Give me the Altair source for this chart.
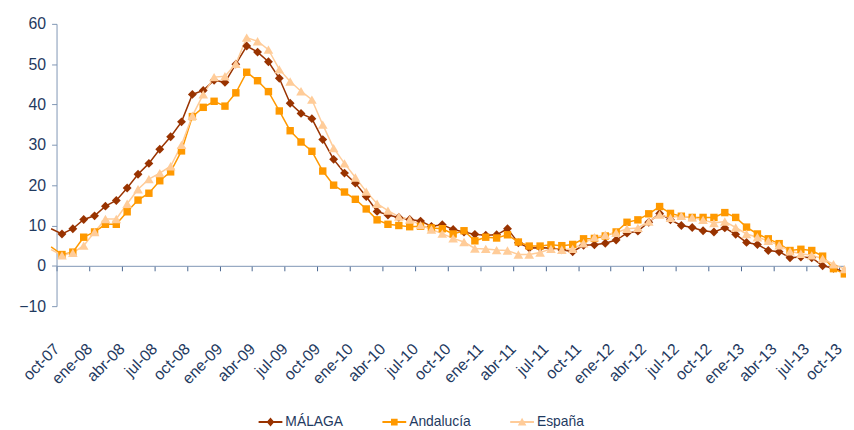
import json
import altair as alt
import pandas as pd

# ---- data -------------------------------------------------------------
etiquetas = ['oct-07', 'ene-08', 'abr-08', 'jul-08', 'oct-08', 'ene-09', 'abr-09',
             'jul-09', 'oct-09', 'ene-10', 'abr-10', 'jul-10', 'oct-10', 'ene-11',
             'abr-11', 'jul-11', 'oct-11', 'ene-12', 'abr-12', 'jul-12', 'oct-12',
             'ene-13', 'abr-13', 'jul-13', 'oct-13']
series = ['MÁLAGA', 'Andalucía', 'España']
colores = ['#993300', '#FF9900', '#FFCC99']

malaga = [7.9, 9.2, 11.5, 12.4, 14.8, 16.2, 19.3, 22.7, 25.4, 28.9, 32.0, 35.7,
          42.5, 43.5, 46.0, 45.5, 50.0, 54.5, 53.0, 50.6, 46.5, 40.3, 37.8, 36.5,
          31.3, 26.4, 23.0, 20.5, 17.2, 13.5, 12.6, 12.0, 11.5, 11.1, 9.8, 10.2,
          9.0, 8.4, 7.8, 7.6, 7.7, 9.2, 5.7, 4.4, 4.5, 4.4, 4.0, 3.5,
          5.1, 5.2, 5.6, 6.4, 8.1, 8.6, 10.8, 13.0, 11.4, 10.0, 9.5, 8.7,
          8.4, 9.4, 7.8, 5.8, 5.3, 3.8, 3.5, 2.0, 2.2, 2.0, 0.0, -0.6, -1.5]
andalucia = [2.8, 3.4, 7.1, 8.4, 10.3, 10.3, 13.4, 16.3, 18.0, 21.1, 23.3, 28.5,
             37.0, 39.3, 40.8, 39.6, 42.9, 48.0, 45.9, 43.2, 38.4, 33.5, 30.7, 28.4,
             23.5, 20.0, 18.3, 16.5, 14.1, 11.4, 10.3, 10.0, 9.7, 9.8, 9.4, 9.2,
             7.9, 8.7, 6.2, 7.1, 6.9, 7.7, 5.9, 4.9, 4.9, 5.2, 5.0, 5.3,
             6.7, 6.8, 7.4, 8.4, 10.8, 11.4, 12.9, 14.7, 13.0, 12.3, 12.0, 12.0,
             12.0, 13.2, 12.0, 9.6, 7.9, 6.7, 5.5, 3.8, 4.1, 3.8, 2.4, -0.7, -2.0]
espana = [2.6, 3.2, 5.0, 8.4, 11.6, 11.6, 15.4, 19.0, 21.5, 23.0, 24.7, 30.0,
          37.2, 42.5, 46.8, 47.0, 50.1, 56.6, 55.7, 53.6, 48.7, 45.7, 43.3, 41.2,
          35.0, 29.2, 25.4, 21.9, 18.4, 15.4, 13.7, 12.2, 11.5, 10.1, 9.0, 8.0,
          6.8, 5.9, 4.3, 4.2, 3.9, 3.8, 2.8, 2.8, 3.3, 4.2, 4.0, 4.2,
          5.6, 7.1, 7.7, 8.2, 9.2, 9.4, 11.0, 12.7, 11.9, 12.4, 12.0, 11.4,
          10.6, 11.0, 9.5, 7.9, 7.1, 6.2, 5.1, 3.6, 3.0, 2.6, 1.8, 0.4, -0.8]
previo = [9.2, 4.7, 4.0]  # sep-07, only the line stub left of the axis

rows = []
for s, vals, p in zip(series, [malaga, andalucia, espana], previo):
    rows.append({'i': -1, 'serie': s, 'valor': p})
    for k, v in enumerate(vals):
        rows.append({'i': k, 'serie': s, 'valor': v})
df = pd.DataFrame(rows)

# ---- styling ------------------------------------------------------------
TXT = '#1F3A5F'
AXIS = '#8096B4'
FONT = 'Liberation Sans'

label_expr = json.dumps(etiquetas) + '[round((datum.value + 0.5) / 3)]'

x_enc = alt.X('i:Q',
              scale=alt.Scale(domain=[-0.5, 71.97], nice=False, zero=False),
              axis=alt.Axis(values=[3 * k - 0.5 for k in range(25)],
                            labelExpr=label_expr, title=None, grid=False,
                            offset=-40.714, domainColor=AXIS, tickColor='#4A6791',
                            tickSize=5, labelPadding=76, labelAngle=-45,
                            labelAlign='right', labelBaseline='middle',
                            labelFontSize=16, labelColor=TXT, labelFont=FONT,
                            labelFlush=False, labelOverlap=False, labelBound=False))
y_enc = alt.Y('valor:Q',
              scale=alt.Scale(domain=[-10, 60], nice=False, zero=False),
              axis=alt.Axis(values=list(range(-10, 61, 10)), title=None, grid=False,
                            domainColor=AXIS, tickColor=AXIS, tickSize=5,
                            labelPadding=6, labelFontSize=16, labelColor=TXT,
                            labelFont=FONT))

# legend symbols: thin bar (the line) with the series marker in the middle, all filled
BAR = 'M-1,-0.08H1V0.08H-1Z'
legend_paths = [BAR + 'M0,-0.38L0.32,0L0,0.38L-0.32,0Z',
                BAR + 'M-0.28,-0.28H0.28V0.28H-0.28Z',
                BAR + 'M0,-0.37L0.36,0.28H-0.36Z']

legend = alt.Legend(orient='none', legendX=204, legendY=390, direction='horizontal',
                    title=None, labelFontSize=14, labelColor=TXT, labelFont=FONT,
                    symbolSize=576, columnPadding=39, labelOffset=3, padding=0,
                    symbolOpacity=1, symbolStrokeWidth=0)

# lines coloured through the stroke channel (no legend of their own)
lines = alt.Chart(df).mark_line(strokeWidth=1.5, clip=False).encode(
    x=x_enc, y=y_enc,
    stroke=alt.Stroke('serie:N', scale=alt.Scale(domain=series, range=colores),
                      legend=None, sort=series),
)

marker_shapes = ['diamond', 'square', 'triangle-up']
marker_sizes = [80, 56, 95]
point_layers = []
for s, col, shp, sz in zip(series, colores, marker_shapes, marker_sizes):
    point_layers.append(
        alt.Chart(df).transform_filter(
            (alt.datum.serie == s) & (alt.datum.i >= 0)
        ).mark_point(filled=True, opacity=1, shape=shp, size=sz, color=col).encode(
            x=x_enc, y=y_enc,
        )
    )

# legend-only layer: no rows survive the filter, the legend comes from the explicit domains
legend_layer = alt.Chart(df).transform_filter('datum.i < -100').mark_point(
    filled=True, size=576).encode(
    x=x_enc, y=y_enc,
    color=alt.Color('serie:N', scale=alt.Scale(domain=series, range=colores),
                    legend=legend, sort=series),
    shape=alt.Shape('serie:N', scale=alt.Scale(domain=series, range=legend_paths),
                    legend=legend, sort=series),
)

chart = alt.layer(lines, *point_layers, legend_layer).resolve_scale(
    color='independent', shape='independent'
).properties(
    width=795, height=285,
    padding={'left': 49, 'top': 14, 'right': 2, 'bottom': 121},
    autosize=alt.AutoSizeParams(type='none'),
    background='white',
).configure_view(stroke=None)

chart.save('out.html', embed_options={'renderer': 'svg', 'actions': False})
